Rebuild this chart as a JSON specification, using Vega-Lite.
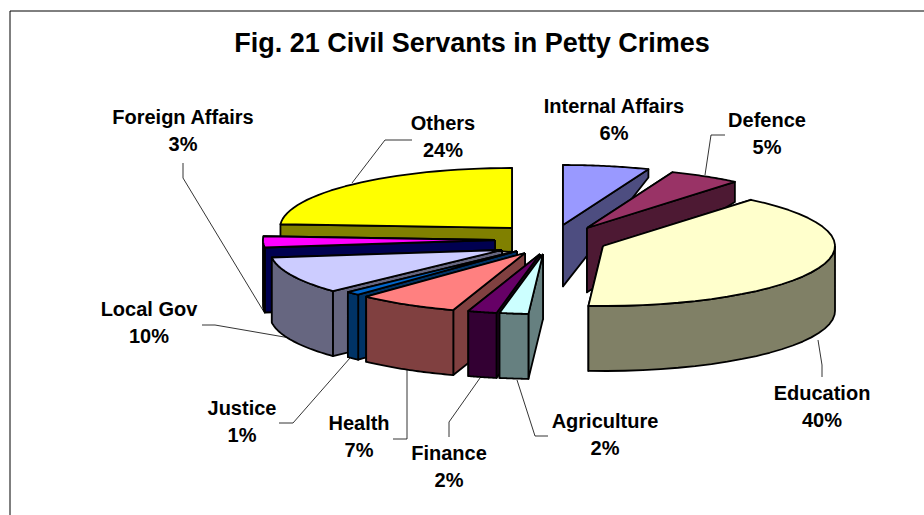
{
"$schema":"https://vega.github.io/schema/vega-lite/v6.json",
"width":924,"height":515,"padding":0,"autosize":"none","background":"white",
"config":{"view":{"stroke":null}},
"title":{"text":"Fig. 21 Civil Servants in Petty Crimes","font":"Liberation Sans","fontSize":27,"fontWeight":"bold","color":"black","anchor":"middle","frame":"group","offset":-58,"dx":10},
"data":{"values":[
{"slice":"Others","value":24,"clock":10},
{"slice":"Foreign Affairs","value":3,"clock":9},
{"slice":"Local Gov","value":10,"clock":8},
{"slice":"Justice","value":1,"clock":7},
{"slice":"Health","value":7,"clock":6},
{"slice":"Finance","value":2,"clock":5},
{"slice":"Agriculture","value":2,"clock":4},
{"slice":"Internal Affairs","value":6,"clock":1},
{"slice":"Defence","value":5,"clock":2},
{"slice":"Education","value":40,"clock":3}
]},
"layer":[
{"data":{"values":[{"side":"left"}]},"mark":{"type":"rule","color":"black","strokeWidth":1},
 "encoding":{"x":{"datum":10,"type":"quantitative","scale":{"domain":[0,924]},"axis":null},"y":{"datum":11,"type":"quantitative","scale":{"domain":[515,0]},"axis":null},"y2":{"datum":515}}},
{"data":{"values":[{"side":"top"}]},"mark":{"type":"rule","color":"black","strokeWidth":1},
 "encoding":{"x":{"datum":10,"type":"quantitative","scale":{"domain":[0,924]},"axis":null},"x2":{"datum":924},"y":{"datum":11,"type":"quantitative","scale":{"domain":[515,0]},"axis":null}}},
{"transform":[
 {"filter":"datum.slice!='Internal Affairs'"},
 {"calculate":"{'Others':[412,385,352],'Foreign Affairs':[183,183,264],'Local Gov':[202,215,290],'Justice':[279,293,350],'Health':[393,407,407],'Finance':[449,449,480],'Agriculture':[548,535,517],'Education':[822,822,818],'Defence':[725,711,705]}[datum.slice]","as":"lx"},
 {"calculate":"{'Others':[140,140,183],'Foreign Affairs':[163,178,312],'Local Gov':[325,325,338],'Justice':[423,423,358],'Health':[439,439,370],'Finance':[437,422,378],'Agriculture':[436,436,380],'Education':[377,365,340],'Defence':[135,135,175]}[datum.slice]","as":"ly"},
 {"calculate":"[0,1,2]","as":"li"},
 {"flatten":["lx","ly","li"],"as":["px","py","i"]}
 ],
 "mark":{"type":"line","color":"black","strokeWidth":0.8},
 "encoding":{"x":{"field":"px","type":"quantitative","scale":{"domain":[0,924]},"axis":null},"y":{"field":"py","type":"quantitative","scale":{"domain":[515,0]},"axis":null},"detail":{"field":"slice"},"order":{"field":"i","type":"quantitative"}}},
{"transform":[
 {"window":[{"op":"sum","field":"value","as":"cum"}],"sort":[{"field":"clock","order":"ascending"}]},
 {"calculate":"(datum.cum-datum.value)/100","as":"start"},
 {"calculate":"datum.cum/100","as":"end"},
 {"calculate":"{'Internal Affairs':563,'Defence':587,'Education':603,'Agriculture':543,'Finance':540,'Health':525,'Justice':517,'Local Gov':502,'Foreign Affairs':495,'Others':512}[datum.slice]","as":"ax"},
 {"calculate":"{'Internal Affairs':225,'Defence':228,'Education':246,'Agriculture':254,'Finance':254,'Health':253,'Justice':251,'Local Gov':250,'Foreign Affairs':240,'Others':228}[datum.slice]","as":"ay"},
 {"calculate":"datum.start>=0.5?['f2','f1','rim','top']:['f1','f2','rim','top']","as":"parts"},
 {"flatten":["parts"],"as":["part"]},
 {"filter":"!(datum.part=='rim'&&(datum.slice=='Others'||datum.slice=='Internal Affairs'||datum.slice=='Defence'))"},
 {"calculate":"[0,1,2,3,4,5,6,7,8,9,10,11,12,13,14,15,16,17,18,19,20,21,22,23,24,25,26,27,28,29,30,31,32,33,34,35,36,37,38,39,40,41,42,43,44,45,46,47,48,49,50,51,52,53,54,55,56,57,58,59,60,61,62,63,64,65,66]","as":"idx"},
 {"flatten":["idx"],"as":["i"]},
 {"filter":"datum.part=='rim'?datum.i<=66:datum.part=='top'?datum.i<=34:datum.i<=4"},
 {"calculate":"datum.part=='rim'?1:datum.part=='top'?((datum.i==0||datum.i==34)?0:1):((datum.i==1||datum.i==2)?1:0)","as":"r"},
 {"calculate":"datum.part=='rim'?((datum.i>32&&datum.i<66)?1:0):datum.part=='top'?0:((datum.i==2||datum.i==3)?1:0)","as":"h"},
 {"calculate":"datum.part=='f1'?0:datum.part=='f2'?1:datum.part=='top'?clamp((datum.i-1)/32,0,1):(datum.i<=32?datum.i/32:datum.i<=65?(65-datum.i)/32:0)","as":"t"},
 {"calculate":"2*PI*(datum.start+datum.t*(datum.end-datum.start))","as":"th0"},
 {"calculate":"datum.part=='rim'?clamp(datum.th0,PI/2,3*PI/2):datum.th0","as":"th"},
 {"calculate":"datum.ax+datum.r*232*sin(datum.th)","as":"px"},
 {"calculate":"datum.ay-datum.r*60*cos(datum.th)","as":"py0"},
 {"calculate":"datum.py0+datum.h*(datum.slice=='Others'?(datum.r==1?13:24):min(65,11+(datum.py0-172)*0.95))","as":"py"},
 {"calculate":"datum.slice+'|'+datum.part","as":"key"},
 {"calculate":"datum.slice+(datum.part=='top'?' top':' side')","as":"shade"}
 ],
 "mark":{"type":"line","filled":true,"strokeWidth":1.8,"strokeJoin":"round"},
 "encoding":{
  "x":{"field":"px","type":"quantitative","scale":{"domain":[0,924]},"axis":null},
  "y":{"field":"py","type":"quantitative","scale":{"domain":[515,0]},"axis":null},
  "detail":{"field":"key"},
  "order":{"field":"i","type":"quantitative"},
  "stroke":{"value":"black"},
  "fill":{"field":"shade","type":"nominal","legend":null,"scale":{
   "domain":["Internal Affairs top","Internal Affairs side","Defence top","Defence side","Education top","Education side","Agriculture top","Agriculture side","Finance top","Finance side","Health top","Health side","Justice top","Justice side","Local Gov top","Local Gov side","Foreign Affairs top","Foreign Affairs side","Others top","Others side"],
   "range":["#9999FF","#4D4D80","#993366","#4D1933","#FFFFCC","#808066","#CCFFFF","#668080","#660066","#330033","#FF8080","#804040","#0066CC","#003366","#CCCCFF","#666680","#FF00FF","#000050","#FFFF00","#808000"]}}
 }},
{"transform":[
 {"calculate":"{'Internal Affairs':614,'Defence':767,'Education':822,'Agriculture':605,'Finance':449,'Health':359,'Justice':242,'Local Gov':149,'Foreign Affairs':183,'Others':443}[datum.slice]","as":"lx"},
 {"calculate":"{'Internal Affairs':107,'Defence':121,'Education':394,'Agriculture':422,'Finance':454,'Health':424,'Justice':409,'Local Gov':310,'Foreign Affairs':118,'Others':124}[datum.slice]","as":"ly"},
 {"calculate":"datum.slice+'\\n'+datum.value+'%'","as":"lab"}
 ],
 "mark":{"type":"text","font":"Liberation Sans","fontSize":20,"fontWeight":"bold","color":"black","lineBreak":"\n","lineHeight":27,"align":"center","baseline":"middle"},
 "encoding":{
  "x":{"field":"lx","type":"quantitative","scale":{"domain":[0,924]},"axis":null},
  "y":{"field":"ly","type":"quantitative","scale":{"domain":[515,0]},"axis":null},
  "text":{"field":"lab"}
 }}
]
}
